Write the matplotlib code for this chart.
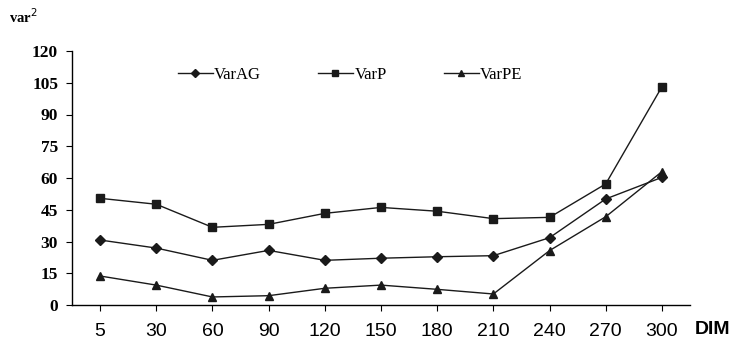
import numpy as np
import matplotlib.pyplot as plt


dim_labels = ['5', '30', '60', '90', '120', '150', '180', '210', '240', '270', '300']

var_ag = [30.7, 26.9, 21.1, 25.8, 21.1, 22.1, 22.8, 23.3, 31.8, 50.1, 60.3]
var_p = [50.4, 47.6, 36.7, 38.1, 43.3, 46.1, 44.3, 40.8, 41.4, 57.2, 103.1]
var_pe = [13.7, 9.4, 3.8, 4.4, 7.9, 9.4, 7.4, 5.2, 25.7, 41.7, 63.0]

y_ticks = [0, 15, 30, 45, 60, 75, 90, 105, 120]


def main():

    fig = plt.figure(figsize=(7.29, 3.47), dpi=100)
    ax = fig.add_axes([72 / 729, 42 / 347, 618 / 729, 254 / 347])

    x = np.arange(len(dim_labels))

    line_kw = dict(color='#1a1a1a', linewidth=1.0)

    ax.plot(x, var_ag, marker='D', markersize=5, label='VarAG', **line_kw)
    ax.plot(x, var_p, marker='s', markersize=5.5, label='VarP', **line_kw)
    ax.plot(x, var_pe, marker='^', markersize=5.5, label='VarPE', **line_kw)

    ax.set_xlim(-0.5, len(dim_labels) - 0.5)
    ax.set_ylim(0, 120)

    ax.spines['top'].set_visible(False)
    ax.spines['right'].set_visible(False)
    ax.spines['left'].set_linewidth(1.0)
    ax.spines['bottom'].set_linewidth(1.0)

    ax.set_xticks(x)
    ax.set_xticklabels(dim_labels, fontfamily='Liberation Sans', fontsize=14)
    ax.tick_params(axis='x', length=4, pad=9, direction='out')

    ax.set_yticks(y_ticks)
    ax.set_yticklabels([str(v) for v in y_ticks],
                       fontfamily='Liberation Serif', fontweight='bold', fontsize=12.5)
    ax.tick_params(axis='y', length=4, pad=6, direction='out')

    # axis titles sit outside the frame
    fig.text(9 / 729, 1 - 17 / 347, 'var$^2$', fontfamily='Liberation Serif',
             fontweight='bold', fontsize=10.5, va='center', ha='left')
    fig.text(695 / 729, 1 - 330 / 347, 'DIM', fontfamily='Liberation Sans',
             fontweight='bold', fontsize=14, va='center', ha='left')

    ax.legend(loc='center', bbox_to_anchor=(0.45, 0.905), ncol=3, frameon=False,
              prop={'family': 'Liberation Serif', 'size': 12},
              handlelength=2.1, handletextpad=0.1, columnspacing=3.4,
              markerscale=0.9)

    fig.savefig('out.png', dpi=100)


if __name__ == "__main__":
    main()
